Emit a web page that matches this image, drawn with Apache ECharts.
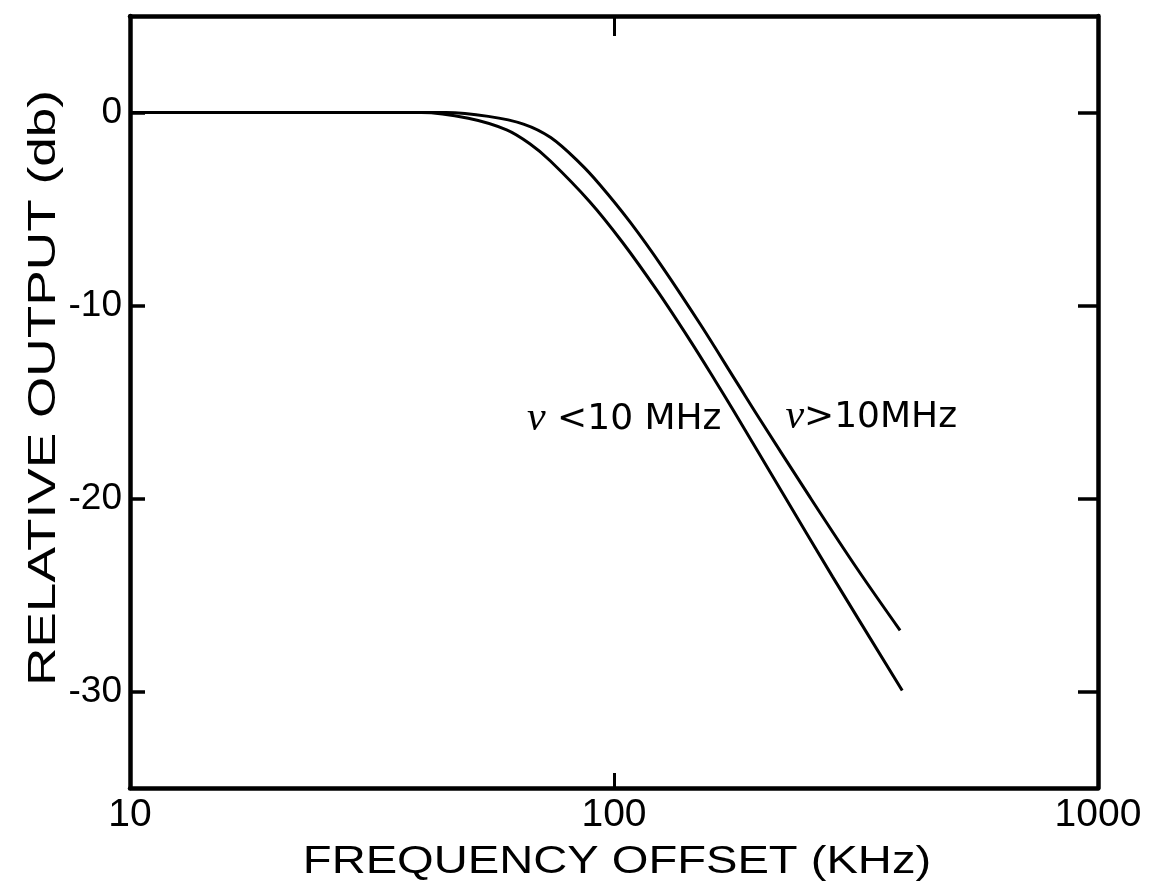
<!DOCTYPE html>
<html>
<head>
<meta charset="utf-8">
<script src="https://cdn.jsdelivr.net/npm/echarts@6/dist/echarts.min.js"></script>
<style>html,body{margin:0;padding:0;background:#fff}#c{width:1151px;height:883px}</style>
</head>
<body>
<div id="c"></div>
<script>
// Frequency offset (kHz) and relative output (dB)
const freqLow  = [10, 30, 40, 50, 60, 67, 73.8, 89, 104, 123, 144, 162, 176, 223, 283, 394];
const dbLow    = [0, 0, 0, -0.3, -0.9, -1.62, -2.5, -4.61, -6.71, -9.26, -11.86, -13.91, -15.39, -19.71, -24.06, -29.95];
const freqHigh = [10, 30, 45, 55, 65, 74, 85, 93.5, 108, 126, 151, 180, 200, 254, 318, 390];
const dbHigh   = [0, 0, 0, -0.2, -0.6, -1.3, -2.62, -3.74, -5.68, -8.02, -11.0, -14.05, -15.88, -19.93, -23.64, -26.83];
const yTicks = [-30, -20, -10, 0];
const xTitle = 'FREQUENCY OFFSET (KHz)';
const yTitle = 'RELATIVE OUTPUT (db)';
const labelLow  = {text: 'ν <10 MHz', at: [105, -15.9]};
const labelHigh = {text: 'ν>10MHz',  at: [340, -15.8]};

const pairs = (xs, ys) => xs.map((x, i) => [x, ys[i]]);
const F = 'Liberation Sans, Arial, sans-serif';
const black = '#000';

const chart = echarts.init(document.getElementById('c'), null, {renderer: 'canvas'});
const axisLine = {show: true, onZero: false, lineStyle: {color: black, width: 4.5}};
function nuLabel(t) {
  return '{n|' + t.text.charAt(0) + '}{t|' + t.text.slice(1) + '}';
}
const richLbl = {
  n: {fontFamily: 'Liberation Serif, serif', fontStyle: 'italic', fontSize: 42, color: black},
  t: {fontFamily: 'DejaVu Sans, sans-serif', fontSize: 36, color: black}
};
const lblStyle = {show: true, position: 'inside', color: black, opacity: 1, textBorderWidth: 0, rich: richLbl};
chart.setOption({
  animation: false,
  backgroundColor: '#fff',
  grid: {left: 130, right: 53, top: 16, bottom: 95},
  xAxis: [
    {type: 'log', logBase: 10, min: 10, max: 1000, position: 'bottom',
     axisLine, splitLine: {show: false},
     axisTick: {show: true, inside: true, length: 15, lineStyle: {color: black, width: 3}},
     axisLabel: {show: true, color: black, fontFamily: F, fontSize: 39, margin: 8,
       showMinLabel: true, showMaxLabel: true, formatter: v => String(Math.round(v))}},
    {type: 'log', logBase: 10, min: 10, max: 1000, position: 'top',
     axisLine, splitLine: {show: false},
     axisTick: {show: true, inside: true, length: 20, lineStyle: {color: black, width: 3}},
     axisLabel: {show: false}}
  ],
  yAxis: [
    {type: 'value', min: -35, max: 5, position: 'left',
     axisLine, splitLine: {show: false},
     axisTick: {show: true, inside: true, length: 15, customValues: yTicks, lineStyle: {color: black, width: 3.5}},
     axisLabel: {show: true, customValues: yTicks, color: black, fontFamily: F, fontSize: 37, margin: 8}},
    {type: 'value', min: -35, max: 5, position: 'right',
     axisLine, splitLine: {show: false},
     axisTick: {show: true, inside: true, length: 20, customValues: yTicks, lineStyle: {color: black, width: 3.5}},
     axisLabel: {show: false}}
  ],
  graphic: [
    {type: 'text', x: 617, y: 863, scaleX: 1.24,
     style: {text: xTitle, font: '38px ' + F, fill: black, textAlign: 'center', textVerticalAlign: 'middle'}},
    {type: 'text', x: 45, y: 388, rotation: Math.PI / 2, scaleX: 1.4,
     style: {text: yTitle, font: '38px ' + F, fill: black, textAlign: 'center', textVerticalAlign: 'middle'}}
  ],
  series: [
    {type: 'line', name: 'low', data: pairs(freqLow, dbLow), smooth: 0.35,
     showSymbol: false, symbol: 'none', lineStyle: {color: black, width: 3}},
    {type: 'line', name: 'high', data: pairs(freqHigh, dbHigh), smooth: 0.35,
     showSymbol: false, symbol: 'none', lineStyle: {color: black, width: 3}},
    {type: 'scatter', symbolSize: 0, data: [labelLow.at], silent: true, itemStyle: {opacity: 1},
     label: Object.assign({formatter: nuLabel(labelLow)}, lblStyle)},
    {type: 'scatter', symbolSize: 0, data: [labelHigh.at], silent: true, itemStyle: {opacity: 1},
     label: Object.assign({formatter: nuLabel(labelHigh)}, lblStyle)}
  ]
});
</script>
</body>
</html>
